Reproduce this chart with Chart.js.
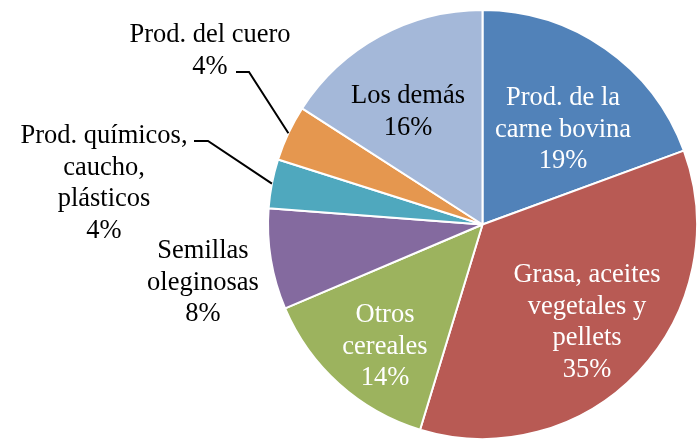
<!DOCTYPE html>
<html>
<head>
<meta charset="utf-8">
<script src="https://cdn.jsdelivr.net/npm/chart.js@4"></script>
<style>
    body { margin: 0; background: #fff; }
    #chart-container { width: 698px; height: 440px; }
</style>
</head>
<body>
<div id="chart-container">
    <canvas id="piechart" width="698" height="440"></canvas>
</div>
<script>
// categories, clockwise from 12 o'clock
const categories = [
    'Prod. de la carne bovina',
    'Grasa, aceites vegetales y pellets',
    'Otros cereales',
    'Semillas oleginosas',
    'Prod. químicos, caucho, plásticos',
    'Prod. del cuero',
    'Los demás'
];
// shares in %
const shares = [19.4, 35.3, 13.9, 7.6, 3.7, 4.2, 15.9];
// how each category name wraps in its label
const labelLines = [
    ['Prod. de la', 'carne bovina'],
    ['Grasa, aceites', 'vegetales y', 'pellets'],
    ['Otros', 'cereales'],
    ['Semillas', 'oleginosas'],
    ['Prod. químicos,', 'caucho,', 'plásticos'],
    ['Prod. del cuero'],
    ['Los demás']
];
const sliceColors = ['#5182b9', '#b85a54', '#9cb35e', '#846a9f', '#4fa8be', '#e5974f', '#a4b8d9'];

// label placement: centre x, first baseline, colour, optional leader elbow
const labelLayout = [
    { x: 563, y: 105, color: '#fff' },
    { x: 587, y: 282, color: '#fff' },
    { x: 385, y: 322, color: '#fff' },
    { x: 203, y: 258, color: '#000' },
    { x: 104, y: 143, color: '#000', elbow: { x: 208, y: 141, from: 194 } },
    { x: 210, y: 42, color: '#000', elbow: { x: 249, y: 72, from: 236 } },
    { x: 408, y: 103, color: '#000' }
];

const pieLabels = {
    id: 'pieLabels',
    afterDatasetsDraw(chart) {
        const ctx = chart.ctx;
        const meta = chart.getDatasetMeta(0);
        ctx.save();
        ctx.font = '26.5px "Liberation Serif", "Times New Roman", serif';
        ctx.textAlign = 'center';
        ctx.textBaseline = 'alphabetic';
        meta.data.forEach((arc, i) => {
            const lay = labelLayout[i];
            const lines = labelLines[i].concat([Math.round(shares[i]) + '%']);
            ctx.fillStyle = lay.color;
            lines.forEach((t, k) => ctx.fillText(t, lay.x, lay.y + k * 31.5));
            if (lay.elbow) {
                const p = arc.getProps(['x', 'y', 'startAngle', 'endAngle', 'outerRadius'], true);
                const mid = (p.startAngle + p.endAngle) / 2;
                const ex = p.x + Math.cos(mid) * p.outerRadius;
                const ey = p.y + Math.sin(mid) * p.outerRadius;
                ctx.strokeStyle = '#000';
                ctx.lineWidth = 2;
                ctx.beginPath();
                ctx.moveTo(lay.elbow.from, lay.elbow.y);
                ctx.lineTo(lay.elbow.x, lay.elbow.y);
                ctx.lineTo(ex, ey);
                ctx.stroke();
            }
        });
        ctx.restore();
    }
};

const ctx = document.getElementById('piechart').getContext('2d');
const config = {
    type: 'pie',
    data: {
        labels: categories,
        datasets: [{
            data: shares,
            backgroundColor: sliceColors,
            borderColor: '#ffffff',
            borderWidth: 2,
            hoverOffset: 0
        }]
    },
    options: {
        responsive: false,
        animation: false,
        layout: {
            padding: { left: 267, right: 0, top: 9, bottom: 0 }
        },
        plugins: {
            legend: { display: false },
            tooltip: { enabled: false },
            title: { display: false }
        }
    },
    plugins: [pieLabels]
};
const myChart = new Chart(ctx, config);
</script>
</body>
</html>
